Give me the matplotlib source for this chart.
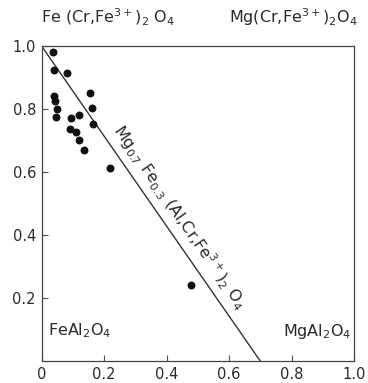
import matplotlib.pyplot as plt
import numpy as np

# Measured compositions (x = Mg fraction, y = Cr+Fe3+ fraction)
x_vals = [0.036, 0.040, 0.083, 0.154, 0.040, 0.042, 0.050, 0.161, 0.047, 0.120,
          0.095, 0.165, 0.090, 0.111, 0.120, 0.136, 0.219, 0.477]
y_vals = [0.980, 0.924, 0.914, 0.852, 0.842, 0.826, 0.800, 0.802, 0.775, 0.780,
          0.770, 0.752, 0.738, 0.726, 0.700, 0.671, 0.613, 0.240]

# Reference line Mg0.7Fe0.3(Al,Cr,Fe3+)2O4
line_x = [0.0, 0.7]
line_y = [1.0, 0.0]

x_ticks = [0, 0.2, 0.4, 0.6, 0.8, 1.0]
x_tick_labels = ["0", "0.2", "0.4", "0.6", "0.8", "1.0"]
y_ticks = [0.2, 0.4, 0.6, 0.8, 1.0]
y_tick_labels = ["0.2", "0.4", "0.6", "0.8", "1.0"]

plt.rcParams['font.family'] = ['DejaVu Sans']
plt.rcParams['mathtext.fontset'] = 'dejavusans'

fig = plt.figure(figsize=(3.68, 3.83), dpi=100)
ax = fig.add_axes([0.1128, 0.0574, 0.8492, 0.8226])

text_col = '#2a2a2a'
ax.plot(line_x, line_y, color='#333333', lw=1.0)
ax.scatter(x_vals, y_vals, s=22, color='#111111', zorder=3)

ax.set_xlim(0, 1)
ax.set_ylim(0, 1)
ax.set_xticks(x_ticks)
ax.set_xticklabels(x_tick_labels)
ax.set_yticks(y_ticks)
ax.set_yticklabels(y_tick_labels)
ax.tick_params(direction='in', length=4, width=0.8, labelsize=10.5,
               colors='#555555', labelcolor=text_col, pad=4)
for sp in ax.spines.values():
    sp.set_color('#444444')
    sp.set_linewidth(0.9)

fs = 11.5
fig.text(0.112, 0.955, r"Fe (Cr,Fe$^{3+}$)$_2$ O$_4$", fontsize=fs, color=text_col,
         ha='left', va='center')
fig.text(0.972, 0.955, r"Mg(Cr,Fe$^{3+}$)$_2$O$_4$", fontsize=fs, color=text_col,
         ha='right', va='center')
ax.text(0.02, 0.095, r"FeAl$_2$O$_4$", fontsize=fs, color=text_col,
        ha='left', va='center', transform=ax.transAxes)
ax.text(0.99, 0.095, r"MgAl$_2$O$_4$", fontsize=fs, color=text_col,
        ha='right', va='center', transform=ax.transAxes)

ax.text(0.412, 0.437, r"Mg$_{0.7}$ Fe$_{0.3}$ (Al,Cr,Fe$^{3+}$)$_2$ O$_4$",
        fontsize=fs, color=text_col, rotation=-55.2, rotation_mode='anchor',
        ha='center', va='bottom')

fig.savefig('out.png', dpi=100)
